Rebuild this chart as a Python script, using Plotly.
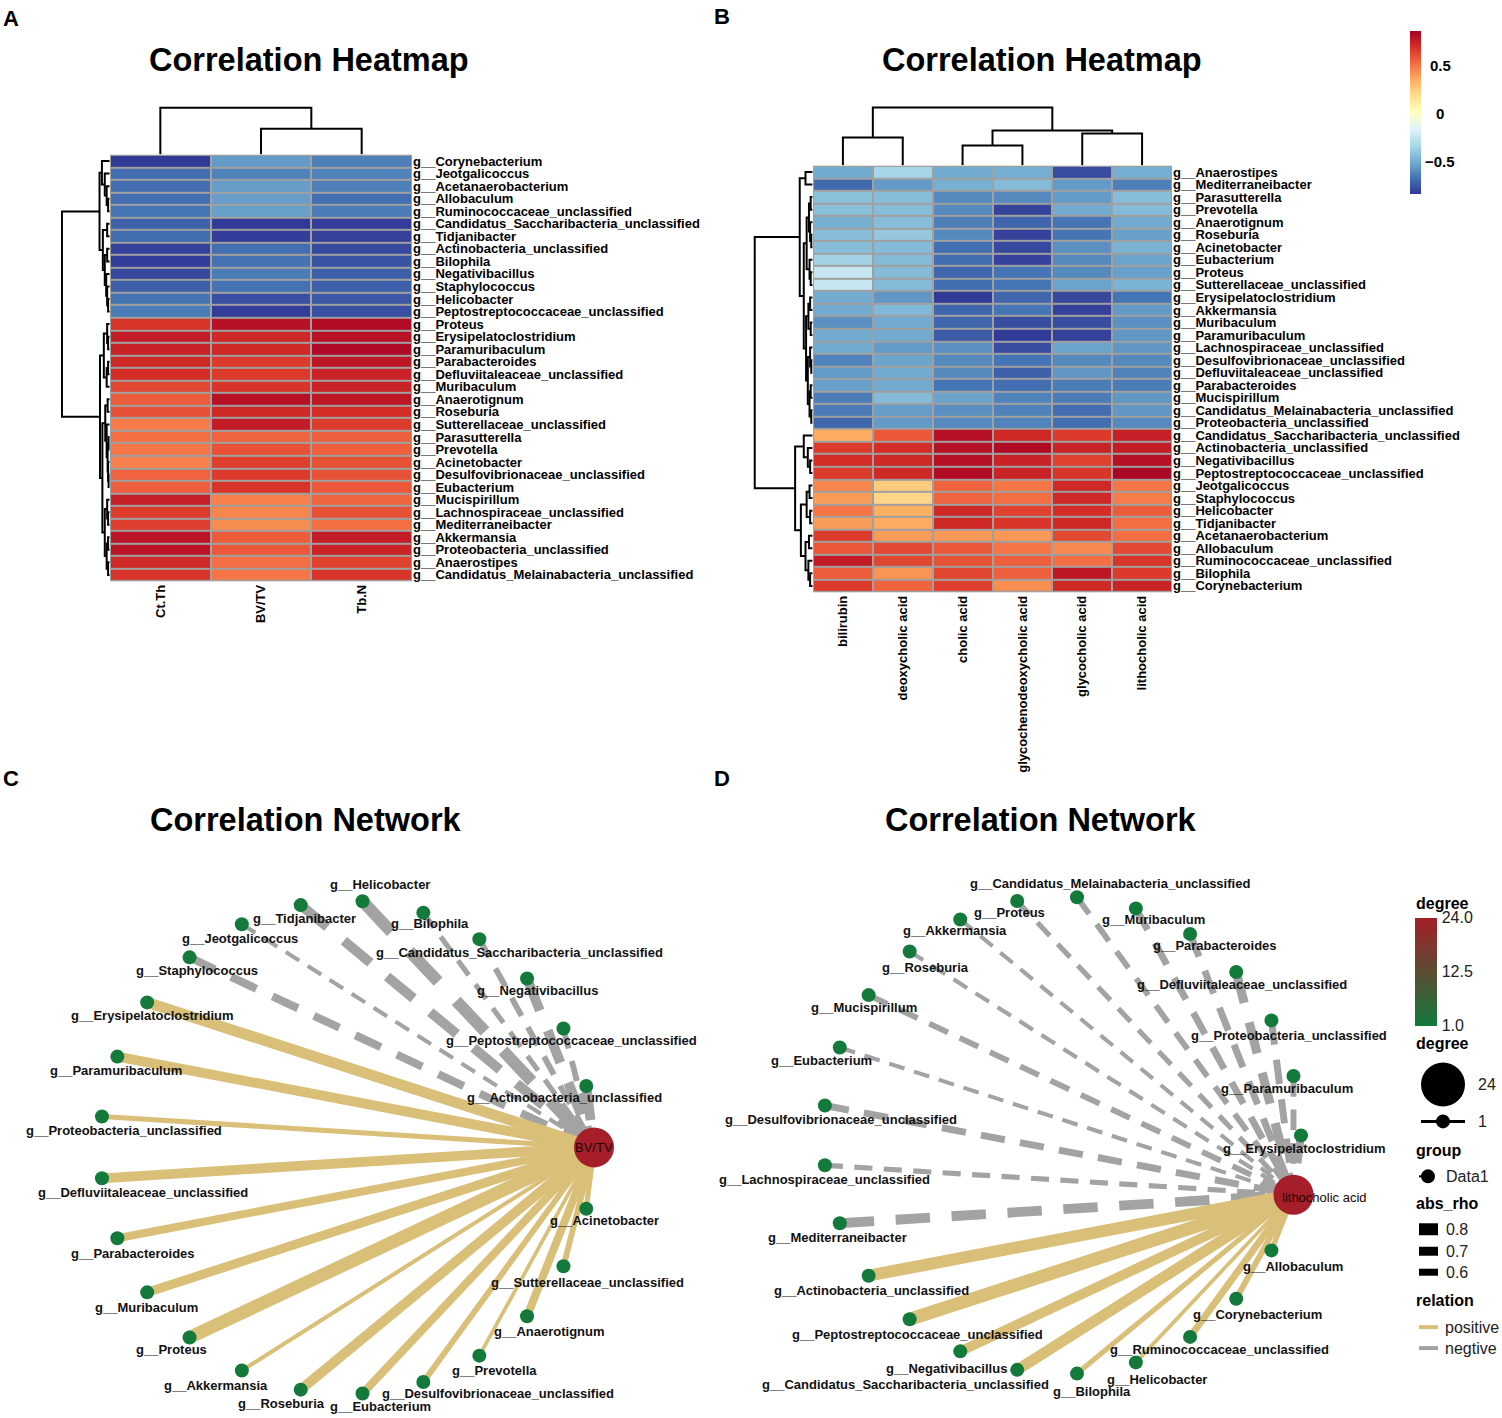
import math
import plotly.graph_objects as go

W, H = 1502, 1418
FONT = "Liberation Sans, Arial, sans-serif"

# ---------------- data: heatmap A ----------------
colsA = ["Ct.Th", "BV/TV", "Tb.N"]
rowsA = ["g__Corynebacterium", "g__Jeotgalicoccus", "g__Acetanaerobacterium", "g__Allobaculum",
         "g__Ruminococcaceae_unclassified", "g__Candidatus_Saccharibacteria_unclassified",
         "g__Tidjanibacter", "g__Actinobacteria_unclassified", "g__Bilophila", "g__Negativibacillus",
         "g__Staphylococcus", "g__Helicobacter", "g__Peptostreptococcaceae_unclassified",
         "g__Proteus", "g__Erysipelatoclostridium", "g__Paramuribaculum", "g__Parabacteroides",
         "g__Defluviitaleaceae_unclassified", "g__Muribaculum", "g__Anaerotignum", "g__Roseburia",
         "g__Sutterellaceae_unclassified", "g__Parasutterella", "g__Prevotella", "g__Acinetobacter",
         "g__Desulfovibrionaceae_unclassified", "g__Eubacterium", "g__Mucispirillum",
         "g__Lachnospiraceae_unclassified", "g__Mediterraneibacter", "g__Akkermansia",
         "g__Proteobacteria_unclassified", "g__Anaerostipes", "g__Candidatus_Melainabacteria_unclassified"]
valsA = [
    [-0.82, -0.55, -0.63], [-0.68, -0.62, -0.62], [-0.68, -0.54, -0.63], [-0.68, -0.54, -0.68],
    [-0.66, -0.53, -0.64], [-0.71, -0.82, -0.81], [-0.68, -0.81, -0.80], [-0.80, -0.68, -0.78],
    [-0.81, -0.67, -0.75], [-0.78, -0.64, -0.72], [-0.72, -0.67, -0.72], [-0.66, -0.76, -0.74],
    [-0.64, -0.81, -0.76],
    [0.68, 0.80, 0.82], [0.76, 0.72, 0.80], [0.74, 0.72, 0.83], [0.72, 0.66, 0.78],
    [0.70, 0.66, 0.74], [0.63, 0.68, 0.74], [0.57, 0.80, 0.78], [0.60, 0.72, 0.70],
    [0.48, 0.76, 0.66], [0.52, 0.55, 0.56], [0.50, 0.60, 0.56], [0.47, 0.65, 0.60],
    [0.55, 0.66, 0.60], [0.56, 0.68, 0.58], [0.75, 0.47, 0.55], [0.66, 0.46, 0.60],
    [0.65, 0.44, 0.52], [0.79, 0.57, 0.76], [0.79, 0.58, 0.74], [0.72, 0.52, 0.64],
    [0.68, 0.50, 0.68]]

# ---------------- data: heatmap B ----------------
colsB = ["bilirubin", "deoxycholic acid", "cholic acid", "glycochenodeoxycholic acid",
         "glycocholic acid", "lithocholic acid"]
rowsB = ["g__Anaerostipes", "g__Mediterraneibacter", "g__Parasutterella", "g__Prevotella",
         "g__Anaerotignum", "g__Roseburia", "g__Acinetobacter", "g__Eubacterium", "g__Proteus",
         "g__Sutterellaceae_unclassified", "g__Erysipelatoclostridium", "g__Akkermansia",
         "g__Muribaculum", "g__Paramuribaculum", "g__Lachnospiraceae_unclassified",
         "g__Desulfovibrionaceae_unclassified", "g__Defluviitaleaceae_unclassified",
         "g__Parabacteroides", "g__Mucispirillum", "g__Candidatus_Melainabacteria_unclassified",
         "g__Proteobacteria_unclassified", "g__Candidatus_Saccharibacteria_unclassified",
         "g__Actinobacteria_unclassified", "g__Negativibacillus",
         "g__Peptostreptococcaceae_unclassified", "g__Jeotgalicoccus", "g__Staphylococcus",
         "g__Helicobacter", "g__Tidjanibacter", "g__Acetanaerobacterium", "g__Allobaculum",
         "g__Ruminococcaceae_unclassified", "g__Bilophila", "g__Corynebacterium"]
valsB = [
    [-0.50, -0.34, -0.50, -0.49, -0.77, -0.49],
    [-0.69, -0.55, -0.48, -0.44, -0.55, -0.63],
    [-0.42, -0.43, -0.60, -0.60, -0.55, -0.43],
    [-0.42, -0.43, -0.60, -0.79, -0.50, -0.44],
    [-0.48, -0.43, -0.63, -0.70, -0.66, -0.50],
    [-0.43, -0.39, -0.60, -0.80, -0.66, -0.53],
    [-0.43, -0.44, -0.68, -0.78, -0.58, -0.47],
    [-0.35, -0.44, -0.68, -0.80, -0.60, -0.52],
    [-0.24, -0.44, -0.70, -0.66, -0.60, -0.53],
    [-0.24, -0.44, -0.68, -0.66, -0.52, -0.47],
    [-0.50, -0.56, -0.82, -0.70, -0.78, -0.66],
    [-0.50, -0.45, -0.70, -0.66, -0.80, -0.55],
    [-0.58, -0.50, -0.70, -0.77, -0.77, -0.58],
    [-0.50, -0.50, -0.73, -0.82, -0.80, -0.56],
    [-0.50, -0.55, -0.58, -0.77, -0.52, -0.56],
    [-0.62, -0.52, -0.60, -0.66, -0.60, -0.60],
    [-0.55, -0.50, -0.60, -0.72, -0.56, -0.62],
    [-0.53, -0.50, -0.66, -0.68, -0.64, -0.64],
    [-0.64, -0.44, -0.52, -0.62, -0.64, -0.56],
    [-0.64, -0.54, -0.58, -0.62, -0.68, -0.56],
    [-0.70, -0.55, -0.60, -0.62, -0.68, -0.60],
    [0.36, 0.58, 0.80, 0.72, 0.66, 0.75],
    [0.66, 0.70, 0.80, 0.82, 0.74, 0.76],
    [0.70, 0.72, 0.80, 0.74, 0.64, 0.80],
    [0.66, 0.72, 0.82, 0.74, 0.68, 0.84],
    [0.46, 0.26, 0.55, 0.50, 0.72, 0.50],
    [0.40, 0.22, 0.55, 0.52, 0.72, 0.48],
    [0.50, 0.35, 0.72, 0.64, 0.70, 0.57],
    [0.40, 0.36, 0.72, 0.68, 0.72, 0.52],
    [0.66, 0.40, 0.41, 0.41, 0.62, 0.52],
    [0.58, 0.62, 0.58, 0.50, 0.45, 0.62],
    [0.76, 0.63, 0.60, 0.56, 0.52, 0.68],
    [0.57, 0.42, 0.63, 0.56, 0.78, 0.66],
    [0.66, 0.55, 0.65, 0.44, 0.72, 0.74]]
heat_ticks = [-0.5, 0, 0.5]

# ---------------- data: clustering trees (height, left, right) ----------------
treeA_cols = (1.0, 0, (0.55, 1, 2))
treeA_rows = (1.0,
              (0.21, (0.16, 0, (0.10, 1, (0.06, 2, (0.03, 3, 4)))),
                     (0.14, (0.05, 5, 6), (0.10, (0.05, 7, 8), (0.07, 9, (0.05, 10, (0.03, 11, 12)))))),
              (0.20, (0.12, (0.05, 13, (0.03, 14, 15)), (0.06, (0.03, 16, 17), 18)),
                     (0.15, (0.09, (0.04, 19, 20), (0.06, 21, (0.04, (0.02, 22, 23), (0.03, 24, (0.02, 25, 26))))),
                            (0.10, (0.05, 27, (0.03, 28, 29)), (0.06, (0.03, 30, 31), (0.03, 32, 33))))))
treeB_cols = (1.0, (0.48, 0, 1), (0.60, (0.34, 2, 3), (0.55, 4, 5)))
treeB_rows = (1.0,
              (0.22, (0.12, 0, 1),
                     (0.15, (0.10, (0.06, (0.03, 2, 3), (0.04, 4, (0.02, 5, 6))), (0.05, 7, (0.03, 8, 9))),
                            (0.11, (0.07, (0.04, 10, 11), (0.03, 12, 13)),
                                   (0.08, (0.04, 14, (0.02, 15, 16)), (0.05, (0.03, 17, 18), (0.02, 19, 20)))))),
              (0.30, (0.15, 21, (0.08, 22, (0.04, 23, 24))),
                     (0.20, (0.10, (0.05, 25, 26), (0.04, 27, 28)),
                            (0.12, (0.06, 29, 30), (0.07, 31, (0.04, 32, 33))))))

# ---------------- data: networks ----------------
hubC = "BV/TV"
netC_nodes = ["BV/TV", "g__Actinobacteria_unclassified", "g__Peptostreptococcaceae_unclassified",
              "g__Negativibacillus", "g__Candidatus_Saccharibacteria_unclassified", "g__Bilophila",
              "g__Helicobacter", "g__Tidjanibacter", "g__Jeotgalicoccus", "g__Staphylococcus",
              "g__Erysipelatoclostridium", "g__Paramuribaculum", "g__Proteobacteria_unclassified",
              "g__Defluviitaleaceae_unclassified", "g__Parabacteroides", "g__Muribaculum", "g__Proteus",
              "g__Akkermansia", "g__Roseburia", "g__Eubacterium", "g__Desulfovibrionaceae_unclassified",
              "g__Prevotella", "g__Anaerotignum", "g__Sutterellaceae_unclassified", "g__Acinetobacter"]
netC_rho = [None, -0.69, -0.58, -0.69, -0.58, -0.56, -0.75, -0.69, -0.53, -0.64,
            0.72, 0.69, 0.56, 0.69, 0.64, 0.67, 0.78, 0.53, 0.69, 0.64, 0.58, 0.52, 0.64, 0.58, 0.56]

hubD = "lithocholic acid"
netD_nodes = ["g__Erysipelatoclostridium", "g__Paramuribaculum", "g__Proteobacteria_unclassified",
              "g__Defluviitaleaceae_unclassified", "g__Parabacteroides", "g__Muribaculum",
              "g__Candidatus_Melainabacteria_unclassified", "g__Proteus", "g__Akkermansia",
              "g__Roseburia", "g__Mucispirillum", "g__Eubacterium", "g__Desulfovibrionaceae_unclassified",
              "g__Lachnospiraceae_unclassified", "g__Mediterraneibacter", "g__Actinobacteria_unclassified",
              "g__Peptostreptococcaceae_unclassified", "g__Negativibacillus",
              "g__Candidatus_Saccharibacteria_unclassified", "g__Bilophila", "g__Helicobacter",
              "g__Ruminococcaceae_unclassified", "g__Corynebacterium", "g__Allobaculum", "lithocholic acid"]
netD_rho = [-0.64, -0.58, -0.61, -0.67, -0.61, -0.61, -0.58, -0.56, -0.53, -0.53, -0.58, -0.53,
            -0.61, -0.56, -0.69, 0.75, 0.78, 0.69, 0.72, 0.56, 0.52, 0.61, 0.58, 0.56, None]
degree_hub = 24
degree_leaf = 1

# ---------------- layout helpers (label placement, px) ----------------
offC = {"g__Actinobacteria_unclassified": (-22, 11), "g__Peptostreptococcaceae_unclassified": (8, 12),
        "g__Negativibacillus": (10, 12), "g__Candidatus_Saccharibacteria_unclassified": (40, 13),
        "g__Bilophila": (7, 11), "g__Helicobacter": (17, -17), "g__Tidjanibacter": (4, 13),
        "g__Jeotgalicoccus": (-2, 14), "g__Staphylococcus": (7, 13), "g__Erysipelatoclostridium": (5, 13),
        "g__Paramuribaculum": (-1, 14), "g__Proteobacteria_unclassified": (22, 14),
        "g__Defluviitaleaceae_unclassified": (41, 14), "g__Parabacteroides": (16, 15),
        "g__Muribaculum": (-1, 15), "g__Proteus": (-18, 12), "g__Akkermansia": (-26, 15),
        "g__Roseburia": (-19, 14), "g__Eubacterium": (18, 13),
        "g__Desulfovibrionaceae_unclassified": (75, 12), "g__Prevotella": (15, 15),
        "g__Anaerotignum": (22, 15), "g__Sutterellaceae_unclassified": (24, 16),
        "g__Acinetobacter": (18, 12), "BV/TV": (0, 0)}
offD = {"g__Candidatus_Melainabacteria_unclassified": (33, -14), "g__Proteus": (-8, 12),
        "g__Akkermansia": (-5, 11), "g__Roseburia": (16, 16), "g__Mucispirillum": (-5, 12),
        "g__Eubacterium": (-18, 13), "g__Desulfovibrionaceae_unclassified": (16, 14),
        "g__Lachnospiraceae_unclassified": (0, 14), "g__Mediterraneibacter": (-2, 14),
        "g__Actinobacteria_unclassified": (3, 15), "g__Peptostreptococcaceae_unclassified": (8, 15),
        "g__Negativibacillus": (-14, 17), "g__Candidatus_Saccharibacteria_unclassified": (-112, 15),
        "g__Bilophila": (15, 18), "g__Helicobacter": (21, 17), "g__Ruminococcaceae_unclassified": (29, 13),
        "g__Corynebacterium": (21, 16), "g__Allobaculum": (22, 16), "lithocholic acid": (31, 3),
        "g__Erysipelatoclostridium": (3, 13), "g__Paramuribaculum": (-6, 12),
        "g__Proteobacteria_unclassified": (18, 15), "g__Defluviitaleaceae_unclassified": (6, 12),
        "g__Parabacteroides": (25, 12), "g__Muribaculum": (18, 11)}

HEAT_CS = [[i / 10, c] for i, c in enumerate(
    ["#313695", "#4575B4", "#74ADD1", "#ABD9E9", "#E0F3F8", "#FFFFBF",
     "#FEE090", "#FDAE61", "#F46D43", "#D73027", "#A50026"])]
ZMIN, ZMAX = -0.83, 0.86
POS_COL, NEG_COL = "#D9BF78", "#A3A3A3"
DEG_CS = [[0, "#137A3C"], [1, "#A51E29"]]
CB_TOP, CB_BOT = 30, 193  # heatmap colorbar px extent


def PX(x):
    return x / W


def PY(y):
    return 1 - y / H


def axis(lo, hi, horizontal, **kw):
    d = [lo / W, hi / W] if horizontal else [1 - hi / H, 1 - lo / H]
    base = dict(domain=d, showgrid=False, zeroline=False, showline=False, ticks="",
                showticklabels=False, fixedrange=True)
    base.update(kw)
    return base


def dendro_segments(tree):
    xs, ys = [], []

    def rec(n):
        if isinstance(n, int):
            return float(n), 0.0
        h, a, b = n
        pa, ha = rec(a)
        pb, hb = rec(b)
        xs.extend([pa, pa, pb, pb, None])
        ys.extend([ha, h, h, hb, None])
        return (pa + pb) / 2, h

    rec(tree)
    return xs, ys


fig = go.Figure()
lab_font = dict(family=FONT, size=13, color="black", weight="bold")
annotations = []

# ---------------- heatmaps ----------------
heat_cfg = [
    ("x", "y", valsA, rowsA, colsA, (110, 412), (154, 581), False),
    ("x2", "y2", valsB, rowsB, colsB, (813, 1172), (165, 592), True),
]
shapes = []
layout_axes = {}
for xa, ya, vals, rows, cols, xd, yd, scale in heat_cfg:
    tr = dict(z=vals, x=list(range(len(cols))), y=list(range(len(rows))), colorscale=HEAT_CS,
              zmin=ZMIN, zmax=ZMAX, xgap=2, ygap=2, xaxis=xa, yaxis=ya, showscale=scale,
              hoverinfo="skip")
    if scale:
        tr["colorbar"] = dict(x=PX(1410), xanchor="left", y=PY((CB_TOP + CB_BOT) / 2), yanchor="middle",
                              len=(CB_BOT - CB_TOP) / H, lenmode="fraction", thickness=11,
                              outlinewidth=0, showticklabels=False, ticks="", xpad=0, ypad=0)
        for t in heat_ticks:
            ypx = CB_TOP + (ZMAX - t) / (ZMAX - ZMIN) * (CB_BOT - CB_TOP)
            annotations.append(dict(text=("\u2212%g" % abs(t)) if t < 0 else "%g" % t,
                                    x=PX(1440), y=PY(ypx), xref="paper", yref="paper",
                                    showarrow=False, xanchor="center", yanchor="middle",
                                    font=dict(family=FONT, size=15, color="black", weight="bold")))
    fig.add_trace(go.Heatmap(**tr))
    n_r, n_c = len(rows), len(cols)
    shapes.append(dict(type="rect", xref=xa, yref=ya, x0=-0.5, x1=n_c - 0.5, y0=-0.5, y1=n_r - 0.5,
                       fillcolor="#A0A0A0", line=dict(width=0), layer="below"))
    shapes.append(dict(type="rect", xref=xa, yref=ya, x0=-0.5, x1=n_c - 0.5, y0=-0.5, y1=n_r - 0.5,
                       fillcolor="rgba(0,0,0,0)", line=dict(width=2, color="#A0A0A0"), layer="above"))
    xk = "xaxis" if xa == "x" else "xaxis" + xa[1:]
    yk = "yaxis" if ya == "y" else "yaxis" + ya[1:]
    layout_axes[xk] = axis(*xd, True, range=[-0.5, n_c - 0.5], anchor=ya, showticklabels=True,
                           tickvals=list(range(n_c)), ticktext=cols, tickangle=-90, tickfont=lab_font)
    layout_axes[yk] = axis(*yd, False, range=[n_r - 0.5, -0.5], anchor=xa, side="right",
                           showticklabels=True, tickvals=list(range(n_r)), ticktext=rows,
                           tickfont=lab_font)

# ---------------- dendrograms ----------------
dend_cfg = [
    ("x5", "y5", treeA_rows, "row", (61, 110), (154, 581), len(rowsA), 1.02),
    ("x6", "y6", treeA_cols, "col", (110, 412), (105, 154), len(colsA), 1.04),
    ("x7", "y7", treeB_rows, "row", (753, 813), (165, 592), len(rowsB), 1.03),
    ("x8", "y8", treeB_cols, "col", (813, 1172), (105, 165), len(colsB), 1.03),
]
for xa, ya, tree, kind, xd, yd, n, top in dend_cfg:
    pos, hgt = dendro_segments(tree)
    if kind == "row":
        fig.add_trace(go.Scatter(x=hgt, y=pos, mode="lines", line=dict(color="black", width=2),
                                 xaxis=xa, yaxis=ya, hoverinfo="skip", showlegend=False))
        layout_axes["xaxis" + xa[1:]] = axis(*xd, True, range=[top, -0.01], anchor=ya)
        layout_axes["yaxis" + ya[1:]] = axis(*yd, False, range=[n - 0.5, -0.5], anchor=xa)
    else:
        fig.add_trace(go.Scatter(x=pos, y=hgt, mode="lines", line=dict(color="black", width=2),
                                 xaxis=xa, yaxis=ya, hoverinfo="skip", showlegend=False))
        layout_axes["xaxis" + xa[1:]] = axis(*xd, True, range=[-0.5, n - 0.5], anchor=ya)
        layout_axes["yaxis" + ya[1:]] = axis(*yd, False, range=[-0.01, top], anchor=xa)

# ---------------- networks ----------------
net_cfg = [
    ("x3", "y3", netC_nodes, netC_rho, hubC, offC, (347, 1148, 247), (0, 720), (860, 1418), False),
    ("x4", "y4", netD_nodes, netD_rho, hubD, offD, (1062, 1136, 239), (710, 1410), (860, 1418), True),
]
for xa, ya, nodes, rhos, hub, offs, (cx, cy, r), xd, yd, bar in net_cfg:
    n = len(nodes)
    pos = [(math.cos(2 * math.pi * i / n), math.sin(2 * math.pi * i / n)) for i in range(n)]
    hi = nodes.index(hub)
    hx, hy = pos[hi]
    order = sorted([i for i in range(n) if i != hi], key=lambda i: rhos[i] > 0)
    for i in order:
        rho = rhos[i]
        w = 3 + (abs(rho) - 0.5) * 36
        if rho > 0:
            ln = dict(color=POS_COL, width=w)
        else:
            ln = dict(color=NEG_COL, width=w,
                      dash="%.1fpx,%.1fpx" % (max(3.5 * w, 16), max(2.2 * w, 10)))
        fig.add_trace(go.Scatter(x=[pos[i][0], hx], y=[pos[i][1], hy], mode="lines", line=ln,
                                 xaxis=xa, yaxis=ya, hoverinfo="skip", showlegend=False))
    deg = [degree_hub if i == hi else degree_leaf for i in range(n)]
    size = [40 if i == hi else 14 for i in range(n)]
    mk = dict(size=size, color=deg, colorscale=DEG_CS, cmin=1, cmax=24, line=dict(width=0),
              opacity=1, showscale=bar)
    if bar:
        mk["colorbar"] = dict(x=PX(1415), xanchor="left", y=PY(972), yanchor="middle",
                              len=108 / H, lenmode="fraction", thickness=22, outlinewidth=0,
                              tickvals=[1, 12.5, 24], ticktext=["1.0", "12.5", "24.0"],
                              ticks="outside", ticklen=2, tickcolor="rgba(0,0,0,0)",
                              xpad=0, ypad=0, tickfont=dict(family=FONT, size=16, color="#222"))
    fig.add_trace(go.Scatter(x=[p[0] for p in pos], y=[p[1] for p in pos], mode="markers", marker=mk,
                             xaxis=xa, yaxis=ya, hoverinfo="skip", showlegend=False, cliponaxis=False))
    for i, name in enumerate(nodes):
        dx, dy = offs[name]
        if i == hi:
            f = dict(family=FONT, size=13, color="#1a0505")
        else:
            f = dict(family=FONT, size=13, color="#111", weight="bold")
        annotations.append(dict(text=name, x=pos[i][0], y=pos[i][1], xref=xa, yref=ya,
                                xshift=dx, yshift=-dy, showarrow=False, font=f))
    layout_axes["xaxis" + xa[1:]] = axis(*xd, True, anchor=ya,
                                         range=[(xd[0] - cx) / r, (xd[1] - cx) / r])
    layout_axes["yaxis" + ya[1:]] = axis(*yd, False, anchor=xa,
                                         range=[(cy - yd[1]) / r, (cy - yd[0]) / r])

# ---------------- titles & panel letters ----------------
title_font = dict(family=FONT, size=32.5, color="black", weight="bold")
for txt, x, y in [("Correlation Heatmap", 309, 59), ("Correlation Heatmap", 1042, 59),
                  ("Correlation Network", 306, 820), ("Correlation Network", 1041, 820)]:
    annotations.append(dict(text=txt, x=PX(x), y=PY(y), xref="paper", yref="paper", showarrow=False,
                            xanchor="center", yanchor="middle", font=title_font))
for txt, x, y in [("A", 11, 18), ("B", 722, 16), ("C", 11, 779), ("D", 722, 779)]:
    annotations.append(dict(text=txt, x=PX(x), y=PY(y), xref="paper", yref="paper", showarrow=False,
                            xanchor="center", yanchor="middle",
                            font=dict(family=FONT, size=22, color="black", weight="bold")))

# ---------------- network legend (D) ----------------
leg_title = dict(family=FONT, size=16, color="black", weight="bold")
leg_lab = dict(family=FONT, size=16, color="#222")


def ltext(t, x, y, f):
    annotations.append(dict(text=t, x=PX(x), y=PY(y), xref="paper", yref="paper", showarrow=False,
                            xanchor="left", yanchor="middle", font=f))


for t, y in [("degree", 904), ("degree", 1044), ("group", 1151), ("abs_rho", 1204), ("relation", 1301)]:
    ltext(t, 1414, y, leg_title)
for t, x, y in [("24", 1476, 1085), ("1", 1476, 1122), ("Data1", 1444, 1177), ("0.8", 1444, 1230),
                ("0.7", 1444, 1252), ("0.6", 1444, 1273), ("positive", 1443, 1328), ("negtive", 1443, 1349)]:
    ltext(t, x, y, leg_lab)


def pshape(kind, x0, y0, x1, y1, **kw):
    d = dict(type=kind, xref="paper", yref="paper", x0=PX(x0), x1=PX(x1), y0=PY(y0), y1=PY(y1))
    d.update(kw)
    shapes.append(d)


pshape("line", 1415, 972, 1419, 972, line=dict(color="white", width=1.5))
pshape("line", 1433, 972, 1437, 972, line=dict(color="white", width=1.5))
pshape("circle", 1421, 1063, 1465, 1107, fillcolor="black", line=dict(width=0))
pshape("line", 1421, 1122, 1465, 1122, line=dict(color="black", width=3))
pshape("circle", 1436, 1115, 1450, 1129, fillcolor="black", line=dict(width=0))
pshape("line", 1419, 1177, 1430, 1177, line=dict(color="black", width=2))
pshape("circle", 1421, 1170, 1435, 1184, fillcolor="black", line=dict(width=0))
for y, h in [(1230, 12), (1252, 9), (1273, 7)]:
    pshape("rect", 1419, y - h / 2, 1438, y + h / 2, fillcolor="black", line=dict(width=0))
pshape("line", 1419, 1328, 1438, 1328, line=dict(color=POS_COL, width=4))
pshape("line", 1419, 1349, 1438, 1349, line=dict(color=NEG_COL, width=4))

fig.update_layout(width=W, height=H, margin=dict(l=0, r=0, t=0, b=0), paper_bgcolor="white",
                  plot_bgcolor="white", showlegend=False, shapes=shapes, annotations=annotations,
                  font=dict(family=FONT), **layout_axes)
fig.write_html("out.html", config={"displayModeBar": False},
               post_script="document.body.style.margin='0';document.body.style.overflow='hidden';")
